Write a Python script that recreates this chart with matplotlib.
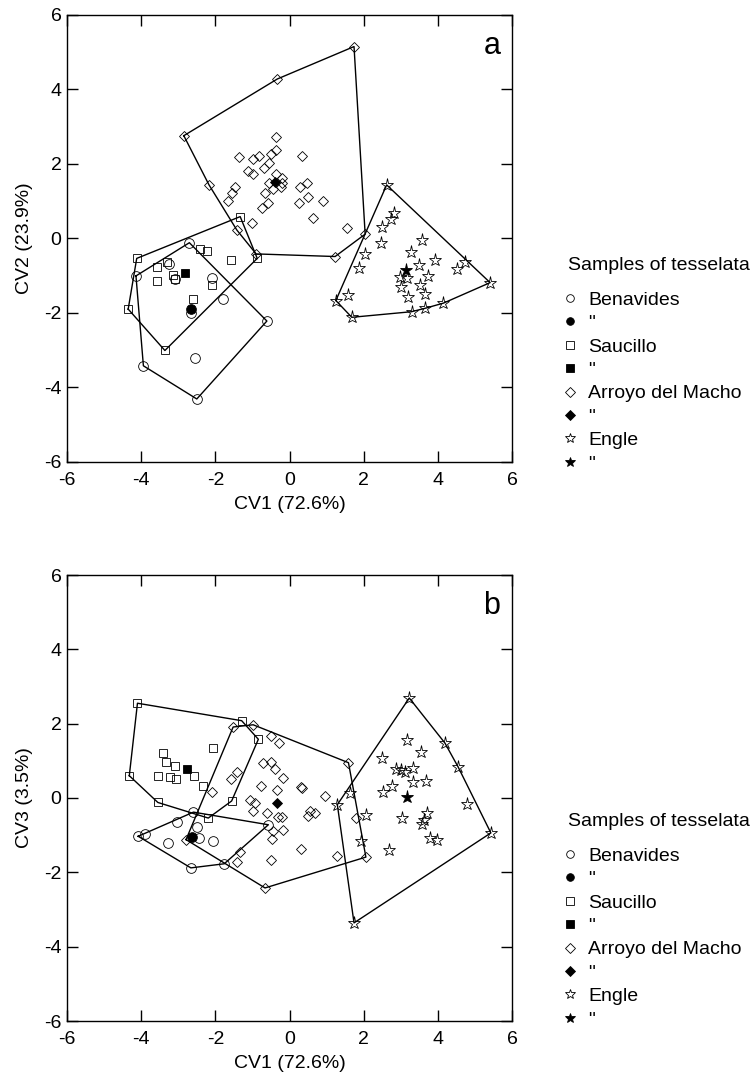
import matplotlib
matplotlib.use("Agg")
import matplotlib.pyplot as plt
from matplotlib.lines import Line2D
import numpy as np

plt.rcParams['font.family'] = ['Liberation Sans', 'DejaVu Sans']
plt.rcParams['axes.unicode_minus'] = False

# ---------------- Panel a: CV1 vs CV2 ----------------
ben_a_x = [-4.14, -2.70, -0.61, -2.50, -3.94, -3.09, -2.10, -1.78, -2.66, -2.55, -3.25]
ben_a_y = [-1.01, -0.12, -2.22, -4.31, -3.42, -1.10, -1.07, -1.64, -2.01, -3.22, -0.70]

sau_a_x = [-4.12, -1.33, -0.87, -3.36, -4.35, -3.58, -3.31, -3.58, -3.13, -3.09, -2.41, -2.23, -1.58, -2.10, -2.61]
sau_a_y = [-0.54, 0.58, -0.54, -3.01, -1.90, -0.76, -0.65, -1.14, -0.98, -1.09, -0.30, -0.33, -0.58, -1.25, -1.63]

arr_a_x = [-2.85, -0.33, 1.74, 2.04, 1.23, -0.90, -2.17,
           -0.37, -1.36, -0.99, -0.81, -0.51, -0.36, -0.69, -0.54, -1.11, -0.99, -0.36, -0.54,
           -0.21, -0.44, -0.66, -1.47, -1.56, -1.65, -0.57, -0.73, -1.02, -1.42,
           0.33, -0.21, 0.28, 0.46, 0.51, 0.26, 0.90, 0.64, 1.54, -0.24]
arr_a_y = [2.75, 4.27, 5.14, 0.11, -0.49, -0.42, 1.43,
           2.71, 2.18, 2.12, 2.21, 2.26, 2.37, 1.89, 2.03, 1.81, 1.71, 1.72, 1.49,
           1.47, 1.31, 1.22, 1.38, 1.21, 1.01, 0.95, 0.80, 0.42, 0.22,
           2.21, 1.61, 1.38, 1.49, 1.10, 0.95, 1.00, 0.54, 0.28, 1.38]

eng_a_x = [2.62, 5.41, 4.15, 3.65, 3.29, 1.68, 1.25, 4.73, 4.51,
           2.83, 2.74, 2.49, 2.47, 2.04, 1.88, 1.59, 3.58, 3.28, 3.92, 3.50, 3.74,
           2.98, 3.16, 3.02, 3.52, 3.65, 3.19]
eng_a_y = [1.43, -1.19, -1.74, -1.88, -1.97, -2.12, -1.67, -0.63, -0.83,
           0.67, 0.52, 0.29, -0.13, -0.43, -0.79, -1.52, -0.05, -0.36, -0.58, -0.72, -1.01,
           -1.03, -1.07, -1.30, -1.25, -1.49, -1.58]

# group reference samples (filled symbols), order: Benavides, Saucillo, Arroyo del Macho, Engle
ref_a_x = [-2.66, -2.82, -0.39, 3.13]
ref_a_y = [-1.89, -0.94, 1.50, -0.85]

# ---------------- Panel b: CV1 vs CV3 ----------------
ben_b_x = [-4.08, -3.90, -2.59, -0.57, -1.76, -2.66, -3.03, -2.50, -2.43, -2.05, -3.28]
ben_b_y = [-1.03, -0.96, -0.38, -0.72, -1.77, -1.88, -0.65, -0.79, -1.08, -1.17, -1.21]

sau_b_x = [-4.10, -1.29, -0.84, -1.56, -2.19, -3.55, -4.32,
           -3.42, -3.33, -3.09, -3.55, -3.22, -3.06, -2.58, -2.34, -2.05]
sau_b_y = [2.55, 2.08, 1.58, -0.08, -0.54, -0.12, 0.60,
           1.22, 0.98, 0.85, 0.58, 0.56, 0.52, 0.60, 0.33, 1.34]

arr_b_x = [-2.79, -1.52, -0.98, 1.59, 2.06, -0.66,
           -0.51, -0.28, -0.71, -0.50, -0.39, -0.18, -1.42, -1.59, -0.77, -0.33, -2.10,
           -1.06, -0.93, -0.98, -0.61, -0.30, -0.17, -0.44, -0.48, -1.33, -1.42, -0.51,
           0.30, 0.34, 0.96, 0.55, 0.69, 0.51, -0.21, 0.30, 1.27, 1.79]
arr_b_y = [-1.12, 1.91, 1.97, 0.95, -1.59, -2.42,
           1.68, 1.48, 0.95, 0.96, 0.78, 0.53, 0.71, 0.51, 0.31, 0.22, 0.17,
           -0.05, -0.14, -0.36, -0.41, -0.50, -0.85, -0.90, -1.10, -1.46, -1.71, -1.66,
           0.30, 0.28, 0.06, -0.36, -0.41, -0.48, -0.50, -1.37, -1.57, -0.54]

eng_b_x = [3.23, 5.43, 1.74, 1.29, 4.19, 4.55,
           3.18, 3.55, 2.49, 2.86, 3.00, 3.12, 3.32, 3.34, 3.67, 2.76, 2.53, 1.63,
           2.06, 3.04, 3.70, 3.63, 3.56, 3.79, 3.97, 4.78, 1.93, 2.67]
eng_b_y = [2.69, -0.94, -3.36, -0.18, 1.48, 0.83,
           1.55, 1.25, 1.07, 0.78, 0.76, 0.69, 0.80, 0.42, 0.47, 0.31, 0.15, 0.13,
           -0.45, -0.54, -0.41, -0.59, -0.70, -1.08, -1.14, -0.16, -1.15, -1.39]

ref_b_x = [-2.64, -2.77, -0.33, 3.16]
ref_b_y = [-1.05, 0.79, -0.14, 0.04]

localities = ['Benavides', 'Saucillo', 'Arroyo del Macho', 'Engle']
markers = ['o', 's', 'D', '*']
sizes = [7.0, 6.3, 5.2, 9.5]
ticks = [-6, -4, -2, 0, 2, 4, 6]
legend_title = 'Samples of tesselata'


def convex_hull(xs, ys):
    pts = sorted(set(zip(xs, ys)))

    def cross(o, a, b):
        return (a[0] - o[0]) * (b[1] - o[1]) - (a[1] - o[1]) * (b[0] - o[0])

    lower, upper = [], []
    for p in pts:
        while len(lower) >= 2 and cross(lower[-2], lower[-1], p) <= 0:
            lower.pop()
        lower.append(p)
    for p in reversed(pts):
        while len(upper) >= 2 and cross(upper[-2], upper[-1], p) <= 0:
            upper.pop()
        upper.append(p)
    hull = lower[:-1] + upper[:-1]
    hull.append(hull[0])
    return np.array(hull)


def draw_panel(ax, groups, refs, ylabel, letter):
    for (gx, gy), m, s in zip(groups, markers, sizes):
        h = convex_hull(gx, gy)
        ax.plot(h[:, 0], h[:, 1], color='black', lw=1.0, zorder=2)
        ax.plot(gx, gy, linestyle='none', marker=m, ms=s, mfc='none',
                mec='black', mew=0.6, zorder=3)
    rx, ry = refs
    for x, y, m, s in zip(rx, ry, markers, sizes):
        ax.plot([x], [y], linestyle='none', marker=m, ms=s, mfc='black',
                mec='black', mew=0.6, zorder=4)
    ax.set_xlim(-6, 6)
    ax.set_ylim(-6, 6)
    ax.set_xticks(ticks)
    ax.set_yticks(ticks)
    ax.tick_params(direction='in', length=8, width=1, top=True, right=True,
                   labelsize=14)
    ax.tick_params(axis='x', pad=7.5)
    ax.tick_params(axis='y', pad=4)
    for sp in ax.spines.values():
        sp.set_linewidth(1.0)
    ax.set_xlabel('CV1 (72.6%)', fontsize=14, labelpad=5)
    ax.set_ylabel(ylabel, fontsize=14, labelpad=8)
    ax.text(0.955, 0.93, letter, transform=ax.transAxes, fontsize=22,
            ha='center', va='center')


def draw_legend(fig, title_px):
    handles, labels = [], []
    for name, m in zip(localities, markers):
        s = 5.5 if m != '*' else 7.5
        handles.append(Line2D([], [], linestyle='none', marker=m, ms=s, mfc='none',
                              mec='black', mew=0.6))
        labels.append(name)
        handles.append(Line2D([], [], linestyle='none', marker=m, ms=s, mfc='black',
                              mec='black', mew=0.6))
        labels.append('"')
    fig.text(568 / 754, 1 - title_px / 1078, legend_title, fontsize=14,
             ha='left', va='center')
    leg = fig.legend(handles, labels, loc='upper left',
                     bbox_to_anchor=(563 / 754, 1 - (title_px + 25) / 1078),
                     bbox_transform=fig.transFigure, frameon=False, fontsize=14,
                     handlelength=0.7, handletextpad=0.6,
                     labelspacing=0.30, borderpad=0, borderaxespad=0)
    return leg


fig = plt.figure(figsize=(7.54, 10.78), dpi=100)
ax_a = fig.add_axes([67 / 754, 1 - 462 / 1078, 445 / 754, 447.5 / 1078])
ax_b = fig.add_axes([67 / 754, 1 - 1021 / 1078, 445 / 754, 446 / 1078])

draw_panel(ax_a,
           [(ben_a_x, ben_a_y), (sau_a_x, sau_a_y), (arr_a_x, arr_a_y), (eng_a_x, eng_a_y)],
           (ref_a_x, ref_a_y), 'CV2 (23.9%)', 'a')
draw_panel(ax_b,
           [(ben_b_x, ben_b_y), (sau_b_x, sau_b_y), (arr_b_x, arr_b_y), (eng_b_x, eng_b_y)],
           (ref_b_x, ref_b_y), 'CV3 (3.5%)', 'b')

draw_legend(fig, 266)
draw_legend(fig, 822)

fig.savefig('out.png', dpi=100)
